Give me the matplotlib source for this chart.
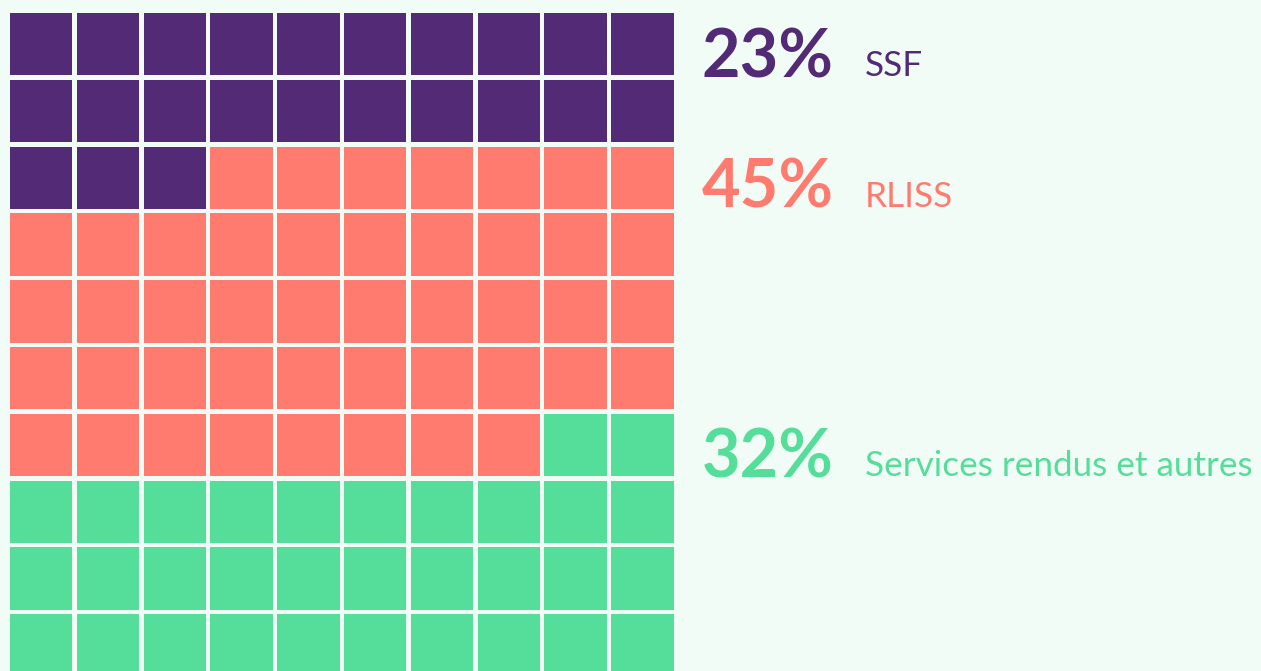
import matplotlib.pyplot as plt
import numpy as np

# waffle 10x10 : part de chaque source de financement
categories = ['SSF', 'RLISS', 'Services rendus et autres']
counts = [23, 45, 32]
colors = ['#532a75', '#ff7b6f', '#55de9a']
pct_labels = ['23%', '45%', '32%']

bg = '#f2fcf6'
n_cols = 10
cell = 0.935

fig = plt.figure(figsize=(12.61, 6.71), dpi=100, facecolor=bg)
W, H = 1261, 671

# axes du waffle (en pixels : x 6 -> 678, y 9 -> 681)
ax = fig.add_axes([6 / W, (H - 681) / H, 672 / W, 672 / H])
ax.set_facecolor('white')

cell_colors = np.repeat(colors, counts)
idx = np.arange(sum(counts))
rows = idx // n_cols
cols = idx % n_cols
ax.bar(cols, cell, width=cell, bottom=rows, align='edge',
       color=cell_colors, linewidth=0)
ax.set_xlim(-0.06, 10.0)
ax.set_ylim(10.0, -0.06)
ax.axis('off')
ax.patch.set_visible(True)

# textes à droite
baselines = [77, 208, 477]
for pct, lab, col, yb in zip(pct_labels, categories, colors, baselines):
    fig.text(702 / W, 1 - yb / H, pct, color=col, fontsize=48,
             fontfamily='Lato', fontweight='bold', va='baseline', ha='left')
    fig.text(865 / W, 1 - (yb - 1) / H, lab, color=col, fontsize=25.3,
             fontfamily='Lato', va='baseline', ha='left')

fig.savefig('out.png', dpi=100, facecolor=bg)
